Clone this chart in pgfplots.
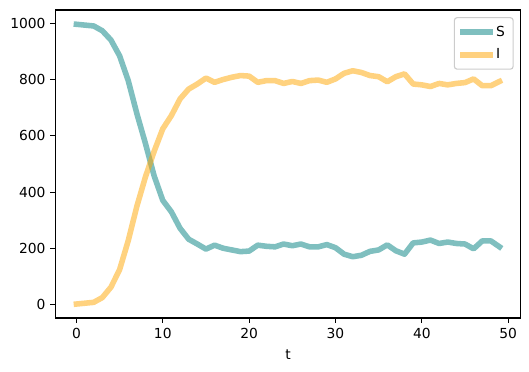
\documentclass[border=0pt]{standalone}
\usepackage{fontspec}
\setmainfont{DejaVu Sans}
\usepackage{pgfplots}
\pgfplotsset{compat=1.18}
\definecolor{mplteal}{RGB}{0,128,128}
\definecolor{mplorange}{RGB}{255,165,0}
\begin{document}
\begin{tikzpicture}
\begin{axis}[name=ax, scale only axis, width=335.1bp, height=221.8bp,
  xmin=-2.45, xmax=51.45, ymin=-46.7, ymax=1046.7,
  xtick={0,10,...,50}, ytick={0,200,...,1000},
  tick align=outside, tick pos=left, major tick length=3.5bp,
  every tick/.style={black, line width=0.8bp},
  axis line style={line width=0.8bp},
  /pgf/number format/assume math mode=true,
  /pgf/number format/set thousands separator={},
  ticklabel style={font=\fontsize{10}{12}\selectfont},
  xlabel={t}, xlabel style={font=\fontsize{10}{12}\selectfont, yshift=-1.5bp},
  legend cell align=left,
  legend style={at={(0.985,0.977)}, anchor=north east, draw=black!20, line width=0.8bp,
    rounded corners=2bp, fill=white, font=\fontsize{10}{12}\selectfont,
    row sep=3.5bp, inner xsep=4bp, inner ysep=4bp,
    /tikz/every even column/.append style={column sep=3bp}},
  legend image code/.code={\draw[#1, line cap=rect] (0bp,0bp) -- (20bp,0bp);},
]
\addplot[mplteal, draw opacity=0.5, line width=4bp, line cap=rect, line join=round] coordinates {
(0,996)(1,993)(2,990)(3,973)(4,940)(5,884)(6,796)(7,679)(8,572)(9,458)
(10,371)(11,330)(12,272)(13,233)(14,216)(15,198)(16,212)(17,201)(18,195)(19,189)
(20,191)(21,212)(22,208)(23,206)(24,216)(25,210)(26,216)(27,206)(28,206)(29,214)
(30,203)(31,180)(32,171)(33,176)(34,190)(35,195)(36,213)(37,192)(38,180)(39,220)
(40,223)(41,230)(42,218)(43,223)(44,218)(45,216)(46,199)(47,227)(48,227)(49,206)
};
\addlegendentry{S}
\addplot[mplorange, draw opacity=0.5, line width=4bp, line cap=rect, line join=round] coordinates {
(0,3)(1,6)(2,9)(3,26)(4,63)(5,125)(6,228)(7,350)(8,455)(9,545)
(10,625)(11,672)(12,731)(13,766)(14,784)(15,805)(16,790)(17,800)(18,808)(19,814)
(20,812)(21,790)(22,796)(23,796)(24,786)(25,793)(26,786)(27,796)(28,798)(29,790)
(30,802)(31,822)(32,831)(33,825)(34,814)(35,810)(36,792)(37,810)(38,820)(39,784)
(40,781)(41,775)(42,786)(43,781)(44,786)(45,789)(46,802)(47,778)(48,778)(49,793)
};
\addlegendentry{I}
\end{axis}
\pgfresetboundingbox
\path[use as bounding box] ([xshift=-39.8bp,yshift=-38.2bp]ax.south west) rectangle ([xshift=6bp,yshift=7.2bp]ax.north east);
\end{tikzpicture}
\end{document}
